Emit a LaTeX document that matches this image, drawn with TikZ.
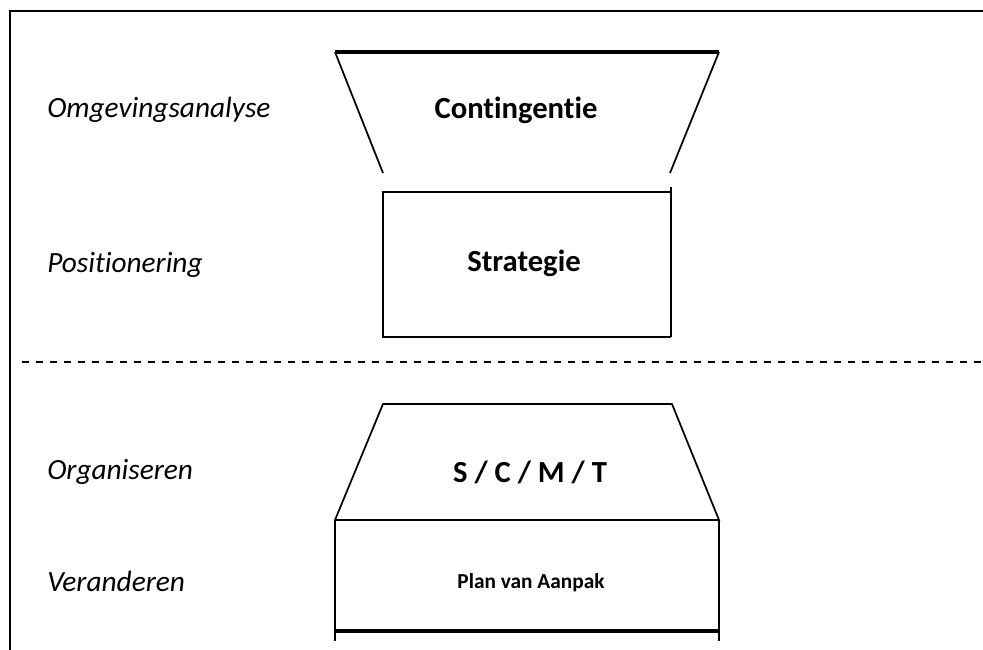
\documentclass[tikz,border=0pt]{standalone}
\usepackage{fontspec}
\setmainfont{Carlito}[Ligatures=NoCommon]
\begin{document}
\begin{tikzpicture}[x=0.75pt,y=-0.75pt,
  thinline/.style={line width=1.3pt},
  thickline/.style={line width=3.6pt},
  frameline/.style={line width=2.2pt},
  sidelabel/.style={anchor=west,inner sep=0pt,font=\fontsize{22}{26}\selectfont\itshape},
  boxlabel/.style={inner sep=0pt,font=\fontsize{23}{27}\selectfont\bfseries},
  smalllabel/.style={inner sep=0pt,font=\fontsize{16}{19}\selectfont\bfseries}]
\useasboundingbox (0,0) rectangle (983,650);

% outer frame: top and left edges only
\draw[frameline] (10,650) -- (10,11) -- (983,11);

% split between analysis and implementation
\draw[line width=1.5pt,dash pattern=on 5.25pt off 5.25pt] (22,362) -- (983,362);

% funnel: contingency
\coordinate (c1) at (335,52);
\coordinate (c2) at (719,52);
\coordinate (c3) at (383,173);
\coordinate (c4) at (670,173);
\draw[thickline] (c1) -- (c2);
\draw[thinline] (c1) -- (c3);
\draw[thinline] (c2) -- (c4);

% strategy box
\coordinate (s1) at (383,192);
\coordinate (s2) at (671,192);
\coordinate (s3) at (671,337);
\coordinate (s4) at (383,337);
\draw[thinline] (s2) -- (s1) -- (s4) -- (s3);
\draw[thinline] (671,187) -- (s3);

% widening block: S/C/M/T and plan
\coordinate (o1) at (383,404);
\coordinate (o2) at (672,404);
\coordinate (o3) at (719,520);
\coordinate (o4) at (335,520);
\coordinate (p1) at (335,641);
\coordinate (p2) at (719,641);
\draw[thinline] (o4) -- (o1) -- (o2) -- (o3) -- cycle;
\draw[thinline] (o4) -- (p1);
\draw[thinline] (o3) -- (p2);
\draw[thickline] (335,631) -- (719,631);

% side labels
\node[sidelabel] (la) at (47,110) {Omgevingsanalyse};
\node[sidelabel] (lb) at (47,265) {Positionering};
\node[sidelabel] (lc) at (47,472) {Organiseren};
\node[sidelabel] (ld) at (47,581) {Veranderen};

% block labels
\node[boxlabel] (ta) at (516,110) {Contingentie};
\node[boxlabel] (tb) at (524,263) {Strategie};
\node[boxlabel] (tc) at (530,472) {S / C / M / T};
\node[smalllabel] (td) at (531,583) {Plan van Aanpak};
\end{tikzpicture}
\end{document}
